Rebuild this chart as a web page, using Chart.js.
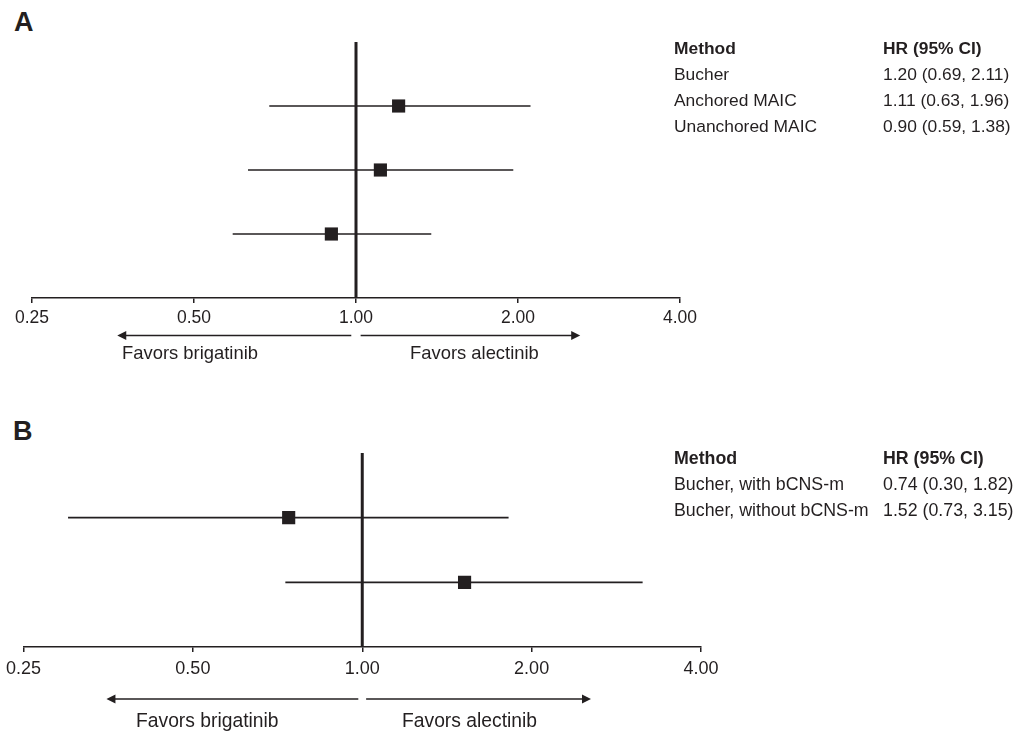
<!DOCTYPE html>
<html>
<head>
<meta charset="utf-8">
<script src="https://cdn.jsdelivr.net/npm/chart.js@4.4.1/dist/chart.umd.min.js"></script>
<style>
  html, body { margin:0; padding:0; background:#fff; }
  body { width:1015px; height:731px; position:relative; overflow:hidden;
         font-family:"Liberation Sans", Arial, Helvetica, sans-serif; color:#231f20; }
  canvas { position:absolute; }
  .t { position:absolute; white-space:nowrap; }
  .b { font-weight:bold; }
  .panel { position:absolute; font-weight:bold; font-size:27px; line-height:27px; }
</style>
</head>
<body>
<div class="panel" style="left:14px;top:9px;">A</div>
<div class="panel" style="left:13px;top:418px;">B</div>
<canvas id="cA" width="720" height="372" style="left:0;top:0;"></canvas>
<canvas id="cB" width="740" height="331" style="left:0;top:400px;"></canvas>
<div id="tableA"></div>
<div id="tableB"></div>
<div id="favA"></div>
<div id="favB"></div>
<script>
// ---- data ----
const methodsA = ['Bucher', 'Anchored MAIC', 'Unanchored MAIC'];
const hrA = [1.20, 1.11, 0.90];
const lowerA = [0.69, 0.63, 0.59];
const upperA = [2.11, 1.96, 1.38];

const methodsB = ['Bucher, with bCNS-m', 'Bucher, without bCNS-m'];
const hrB = [0.74, 1.52];
const lowerB = [0.30, 0.73];
const upperB = [1.82, 3.15];

const tickValues = [0.25, 0.50, 1.00, 2.00, 4.00];
const refValue = 1.00;
const headers = ['Method', 'HR (95% CI)'];
const favorLabels = ['Favors brigatinib', 'Favors alectinib'];

// ---- styling ----
const INK = '#231f20';
Chart.defaults.font.family = '"Liberation Sans", Arial, Helvetica, sans-serif';
Chart.defaults.color = INK;

const fmt = v => Number(v).toFixed(2);

// text placed by baseline (Liberation Sans metrics, line-height = font size)
function textDiv(str, left, base, size, bold) {
  const top = base - 0.8465 * size;
  return `<div class="t${bold ? ' b' : ''}" style="left:${left}px;top:${top}px;font-size:${size}px;line-height:${size}px;">${str}</div>`;
}

function buildTable(id, methods, hr, lo, hi, headBase, size) {
  const rowStep = 26;
  let html = textDiv(headers[0], 674, headBase, size, true) + textDiv(headers[1], 883, headBase, size, true);
  methods.forEach((m, i) => {
    const b = headBase + rowStep * (i + 1);
    html += textDiv(m, 674, b, size, false);
    html += textDiv(`${fmt(hr[i])} (${fmt(lo[i])}, ${fmt(hi[i])})`, 883, b, size, false);
  });
  document.getElementById(id).innerHTML = html;
}
buildTable('tableA', methodsA, hrA, lowerA, upperA, 55, 17.4);
buildTable('tableB', methodsB, hrB, lowerB, upperB, 465.5, 17.8);

document.getElementById('favA').innerHTML =
  textDiv(favorLabels[0], 122, 360, 18.4) + textDiv(favorLabels[1], 410, 360, 18.4);
document.getElementById('favB').innerHTML =
  textDiv(favorLabels[0], 136, 727.3, 19.3) + textDiv(favorLabels[1], 402, 727.3, 19.3);

// arrows plugin
const arrowPlugin = {
  id: 'favorArrows',
  afterDraw(chart, args, opts) {
    const ctx = chart.ctx, xs = chart.scales.x;
    const y = chart.chartArea.bottom + opts.offset;
    ctx.save();
    ctx.strokeStyle = INK; ctx.fillStyle = INK; ctx.lineWidth = 1.6;
    const draw = (fromV, toV) => {
      const x1 = xs.getPixelForValue(fromV), x2 = xs.getPixelForValue(toV);
      const dir = Math.sign(x2 - x1);
      ctx.beginPath(); ctx.moveTo(x1, y); ctx.lineTo(x2 - dir * 6, y); ctx.stroke();
      ctx.beginPath(); ctx.moveTo(x2, y); ctx.lineTo(x2 - dir * 9, y - 4.5); ctx.lineTo(x2 - dir * 9, y + 4.5); ctx.closePath(); ctx.fill();
    };
    draw(opts.left[0], opts.left[1]);
    draw(opts.right[0], opts.right[1]);
    ctx.restore();
  }
};

function makeChart(id, hr, lo, hi, pad, arrows, tickSize, tickPad) {
  const n = hr.length;
  const datasets = [];
  datasets.push({
    type: 'scatter', data: hr.map((v, i) => ({ x: v, y: i + 1 })),
    pointStyle: 'rect', pointRadius: 9.3, pointHoverRadius: 9.3,
    backgroundColor: INK, borderColor: INK, borderWidth: 0, order: 0
  });
  hr.forEach((v, i) => {
    datasets.push({
      type: 'line', data: [{ x: lo[i], y: i + 1 }, { x: hi[i], y: i + 1 }],
      borderColor: INK, borderWidth: 1.6, pointRadius: 0, order: 1
    });
  });
  datasets.push({
    type: 'line', data: [{ x: refValue, y: 0 }, { x: refValue, y: n + 1 }],
    borderColor: INK, borderWidth: 3, pointRadius: 0, order: 2
  });
  return new Chart(document.getElementById(id), {
    type: 'scatter',
    data: { datasets },
    plugins: [arrowPlugin],
    options: {
      responsive: false, animation: false, devicePixelRatio: 1,
      layout: { padding: pad },
      plugins: { legend: { display: false }, tooltip: { enabled: false }, favorArrows: arrows },
      events: [],
      scales: {
        x: {
          type: 'logarithmic', min: tickValues[0], max: tickValues[tickValues.length - 1],
          position: 'bottom',
          afterBuildTicks: s => { s.ticks = tickValues.map(v => ({ value: v })); },
          afterFit: s => { s.paddingLeft = 0; s.paddingRight = 0; s.height = 40; },
          ticks: { autoSkip: false, maxRotation: 0, padding: tickPad, color: INK,
                   font: { size: tickSize }, callback: v => fmt(v) },
          grid: { display: true, drawOnChartArea: false, drawTicks: true, tickLength: 5,
                  color: INK, lineWidth: 1.5 },
          border: { display: true, color: INK, width: 1.5 }
        },
        y: { type: 'linear', min: 0, max: n + 1, reverse: true, display: false }
      }
    }
  });
}

makeChart('cA', hrA, lowerA, upperA, { left: 32, right: 40, top: 42, bottom: 34 },
  { offset: 37.5, left: [0.98, 0.36], right: [1.02, 2.61] }, 17.5, 4.5);
makeChart('cB', hrB, lowerB, upperB, { left: 23.5, right: 39, top: 53, bottom: 44 },
  { offset: 52, left: [0.984, 0.351], right: [1.016, 2.55] }, 18, 6.5);
</script>
</body>
</html>
